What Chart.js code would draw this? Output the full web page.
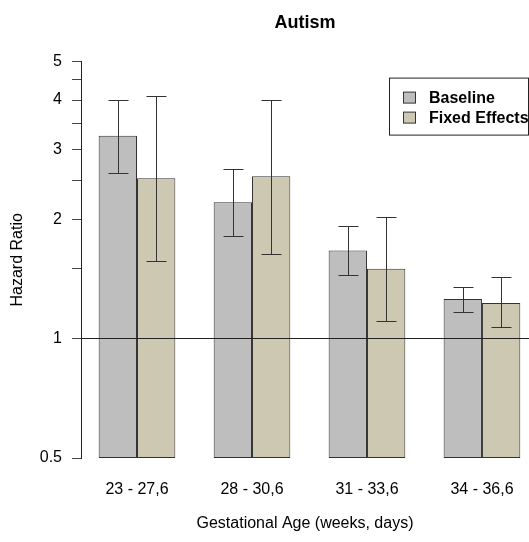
<!DOCTYPE html>
<html>
<head>
<meta charset="utf-8">
<script src="https://cdn.jsdelivr.net/npm/chart.js@4"></script>
<style>
  body { margin: 0; background: #fff; }
  canvas { display: block; }
</style>
</head>
<body>
<canvas id="autismChart" width="529" height="542"></canvas>
<script>
// values
const groups = ["23 - 27,6", "28 - 30,6", "31 - 33,6", "34 - 36,6"];
const baseline = [3.25, 2.21, 1.67, 1.26];
const baselineLow = [2.62, 1.82, 1.45, 1.17];
const baselineHigh = [4.0, 2.68, 1.92, 1.35];
const fixedEffects = [2.54, 2.57, 1.50, 1.23];
const fixedLow = [1.57, 1.64, 1.11, 1.07];
const fixedHigh = [4.09, 4.0, 2.03, 1.43];
const yTicks = [0.5, 1, 1.5, 2, 2.5, 3, 3.5, 4, 4.5, 5];
const yTickLabels = ["0.5", "1", "", "2", "", "3", "", "4", "", "5"];

const FONT = "'Liberation Sans', Arial, sans-serif";

const toPoints = (vals) => vals.map((v, i) => ({ x: i + 1, y: v }));

// confidence intervals, drawn through the y scale
const errorBars = {
    id: "errorBars",
    afterDatasetsDraw(chart) {
        const ctx = chart.ctx;
        const yScale = chart.scales.y;
        ctx.save();
        ctx.strokeStyle = "#333";
        ctx.lineWidth = 1;
        chart.data.datasets.forEach((ds, d) => {
            const meta = chart.getDatasetMeta(d);
            meta.data.forEach((bar, i) => {
                const x = Math.round(bar.x) + 0.5;
                const yHi = Math.round(yScale.getPixelForValue(ds.errHigh[i])) + 0.5;
                const yLo = Math.round(yScale.getPixelForValue(ds.errLow[i])) + 0.5;
                ctx.beginPath();
                ctx.moveTo(x, yHi); ctx.lineTo(x, yLo);
                ctx.moveTo(x - 10, yHi); ctx.lineTo(x + 10, yHi);
                ctx.moveTo(x - 10, yLo); ctx.lineTo(x + 10, yLo);
                ctx.stroke();
            });
        });
        ctx.restore();
    }
};

// boxed legend in the top right corner of the plot
const boxLegend = {
    id: "boxLegend",
    afterDraw(chart) {
        const ctx = chart.ctx;
        const area = chart.chartArea;
        const left = area.right - 140;
        const top = area.top + 16;
        ctx.save();
        ctx.fillStyle = "#fff";
        ctx.fillRect(left, top, 140, 57);
        ctx.strokeStyle = "#222";
        ctx.lineWidth = 1;
        ctx.strokeRect(left + 0.5, top + 0.5, 139, 57);
        ctx.font = "bold 16px " + FONT;
        ctx.textBaseline = "middle";
        chart.data.datasets.forEach((ds, i) => {
            const cy = top + 20 + i * 20;
            ctx.fillStyle = ds.backgroundColor;
            ctx.fillRect(left + 14.5, cy - 5.5, 12, 11);
            ctx.strokeStyle = "#333";
            ctx.strokeRect(left + 14.5, cy - 5.5, 12, 11);
            ctx.fillStyle = "#000";
            ctx.fillText(ds.label, left + 40, cy + 1);
        });
        ctx.restore();
    }
};

new Chart(document.getElementById("autismChart"), {
    type: "bar",
    data: {
        datasets: [{
            label: "Baseline",
            data: toPoints(baseline),
            errLow: baselineLow,
            errHigh: baselineHigh,
            backgroundColor: "#bebebe",
            borderColor: "#333",
            borderWidth: 1,
            borderSkipped: false
        }, {
            label: "Fixed Effects",
            data: toPoints(fixedEffects),
            errLow: fixedLow,
            errHigh: fixedHigh,
            backgroundColor: "#cdc8b1",
            borderColor: "#333",
            borderWidth: 1,
            borderSkipped: false
        }]
    },
    options: {
        responsive: false,
        animation: false,
        layout: { padding: 0 },
        categoryPercentage: 2 / 3,
        barPercentage: 1,
        plugins: {
            legend: { display: false },
            tooltip: { enabled: false },
            title: {
                display: true,
                text: "Autism",
                fullSize: false,
                color: "#000",
                font: { family: FONT, size: 18, weight: "bold" },
                padding: { top: 12, bottom: 28 }
            }
        },
        scales: {
            x: {
                type: "linear",
                offset: false,
                min: 0.513,
                max: 4.409,
                // tick marks hidden, their length only pushes the labels down
                grid: { display: false, drawTicks: true, tickLength: 19 },
                border: { display: false },
                afterBuildTicks: (axis) => {
                    axis.ticks = groups.map((_, i) => ({ value: i + 1 }));
                },
                afterFit: (scale) => { scale.height = 84; },
                ticks: {
                    autoSkip: false,
                    maxRotation: 0,
                    padding: 3,
                    color: "#000",
                    font: { family: FONT, size: 16 },
                    callback: (value) => groups[value - 1]
                },
                title: {
                    display: true,
                    text: "Gestational Age (weeks, days)",
                    color: "#000",
                    font: { family: FONT, size: 16 },
                    padding: { top: 0, bottom: 9 }
                }
            },
            y: {
                type: "logarithmic",
                min: 0.5,
                max: 5,
                // grid and border on top of the bars so the line at 1 crosses them
                border: { display: true, color: "#222", width: 1, z: 1 },
                grid: {
                    z: 1,
                    drawOnChartArea: true,
                    drawTicks: true,
                    tickLength: 9,
                    tickColor: "#444",
                    color: (c) => (c.tick && c.tick.value === 1 ? "#222" : "rgba(0,0,0,0)")
                },
                afterBuildTicks: (axis) => {
                    axis.ticks = yTicks.map((v) => ({ value: v }));
                },
                afterFit: (scale) => { scale.width = 81; },
                ticks: {
                    autoSkip: false,
                    padding: 10,
                    color: "#000",
                    font: { family: FONT, size: 16 },
                    callback: (value, index) => yTickLabels[index]
                },
                title: {
                    display: true,
                    text: "Hazard Ratio",
                    color: "#000",
                    font: { family: FONT, size: 16 },
                    padding: { top: 8, bottom: 0 }
                }
            }
        }
    },
    plugins: [errorBars, boxLegend]
});
</script>
</body>
</html>
